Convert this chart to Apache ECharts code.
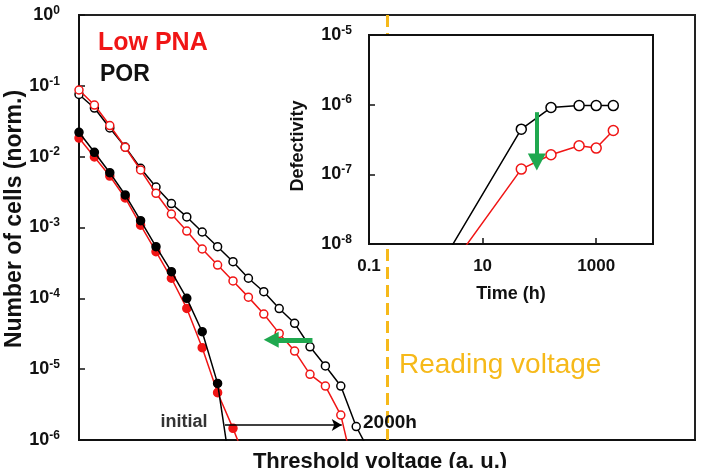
<!DOCTYPE html>
<html>
<head>
<meta charset="utf-8">
<script src="https://cdn.jsdelivr.net/npm/echarts@6/dist/echarts.min.js"></script>
<style>
  html, body { margin: 0; padding: 0; background: #fff; }
  #chart { width: 701px; height: 468px; }
</style>
</head>
<body>
<div id="chart"></div>
<script>
// threshold voltage steps (a. u.), one marker every 0.25
var vSteps = [0, 0.25, 0.5, 0.75, 1, 1.25, 1.5, 1.75, 2, 2.25, 2.5, 2.75, 3, 3.25, 3.5, 3.75, 4, 4.25, 4.5, 4.75];
// last value of each list lies below 1e-6 (line runs off the axis)
var porInitial = [0.0221, 0.01153, 0.00594, 0.00288, 0.00125, 5.36e-4, 2.38e-4, 1.0e-4, 3.38e-5, 6.3e-6, 2.2e-7];
var lowInitial = [0.0183, 0.00989, 0.00533, 0.00261, 0.00108, 4.55e-4, 1.92e-4, 7.2e-5, 2.01e-5, 4.65e-6, 1.46e-6, 4.1e-7];
var por2000h = [0.0755, 0.0486, 0.0254, 0.01368, 0.00685, 0.00373, 0.00218, 0.00141, 8.64e-4, 5.36e-4, 3.29e-4, 1.92e-4, 1.24e-4, 7.18e-5, 4.44e-5, 2.07e-5, 1.11e-5, 5.78e-6, 1.55e-6, 6e-7];
var low2000h = [0.0873, 0.0536, 0.0275, 0.01356, 0.00648, 0.00304, 0.00155, 8.9e-4, 4.97e-4, 2.95e-4, 1.76e-4, 1.04e-4, 6.0e-5, 3.2e-5, 1.8e-5, 8.46e-6, 5.78e-6, 2.25e-6, 2.7e-7];
var readingVoltage = 5;

// inset: defectivity vs time (first point is below 1e-8)
var timeHours = [1, 48, 160, 500, 1000, 2000];
var porDefect = [2.2e-9, 4.45e-7, 9.1e-7, 9.7e-7, 9.7e-7, 9.7e-7];
var lowDefect = [1.5e-9, 1.19e-7, 1.91e-7, 2.57e-7, 2.38e-7, 4.26e-7];

var FONT = 'Liberation Sans, Arial, sans-serif';
var RED = '#f01515';
var GREEN = '#1fa84f';
var GOLD = '#f6b91a';

function pairs(xs, ys) {
    return ys.map(function (y, i) { return [xs[i], y]; });
}

function powLabel(v) {
    var e = Math.round(Math.log10(v));
    return '{b|10}{s|' + e + '}';
}

var powRich = {
    b: { fontSize: 18, fontWeight: 'bold', fontFamily: FONT, color: '#111' },
    s: { fontSize: 12, fontWeight: 'bold', fontFamily: FONT, color: '#111', padding: [0, 0, 9, 0] }
};

function lineSeries(name, data, color, filled, z) {
    return {
        name: name,
        type: 'line',
        xAxisIndex: 0,
        yAxisIndex: 0,
        data: data,
        z: z,
        clip: true,
        symbol: 'circle',
        symbolSize: 8,
        lineStyle: { color: color, width: 1.5 },
        itemStyle: { color: filled ? color : '#fff', borderColor: color, borderWidth: 1.5 },
        animation: false
    };
}

var chart = echarts.init(document.getElementById('chart'));

var porLate = lineSeries('POR 2000h', pairs(vSteps, por2000h), '#000', false, 2);
porLate.markLine = {
    z: 1,
    silent: true,
    label: { show: false },
    data: [
        [
            { coord: [readingVoltage, 1], symbol: 'none', lineStyle: { color: GOLD, width: 3, type: [12, 6] } },
            { coord: [readingVoltage, 1e-6], symbol: 'none' }
        ]
    ]
};

var lowLate = lineSeries('Low PNA 2000h', pairs(vSteps, low2000h), RED, false, 3);
lowLate.markLine = {
    z: 4,
    silent: true,
    label: { show: false },
    data: [
        [
            { coord: [3.79, 2.6e-5], symbol: 'none', lineStyle: { color: GREEN, width: 5, type: 'solid' } },
            { coord: [3.12, 2.6e-5], symbol: 'triangle', symbolSize: [16, 15] }
        ],
        [
            { coord: [2.37, 1.63e-6], symbol: 'none', lineStyle: { color: '#000', width: 1.5, type: 'solid' } },
            { coord: [4.265, 1.63e-6], symbol: 'arrow', symbolSize: [9, 10] }
        ]
    ]
};

var option = {
    animation: false,
    backgroundColor: '#fff',
    grid: [
        { left: 79, top: 15, right: 6, bottom: 28, show: true, borderColor: '#222', borderWidth: 2 },
        { left: 369, top: 35, right: 48, bottom: 224, show: true, borderColor: '#111', borderWidth: 2, backgroundColor: '#fff', z: 5 }
    ],
    xAxis: [
        {
            gridIndex: 0, type: 'value', min: 0, max: 10,
            axisLine: { lineStyle: { color: '#111', width: 2 } },
            axisTick: { show: false }, axisLabel: { show: false }, splitLine: { show: false }
        },
        {
            gridIndex: 1, type: 'log', logBase: 10, min: 0.1, max: 10000, interval: 2, z: 6,
            axisLine: { lineStyle: { color: '#111', width: 2 } },
            axisTick: { inside: true, length: 6, lineStyle: { color: '#111', width: 1.5 } },
            axisLabel: {
                margin: 14, fontSize: 17, fontWeight: 'bold', fontFamily: FONT, color: '#111',
                showMaxLabel: false,
                formatter: function (v) { return v < 1 ? String(+v.toPrecision(1)) : String(Math.round(v)); }
            },
            splitLine: { show: false }
        }
    ],
    yAxis: [
        {
            gridIndex: 0, type: 'log', logBase: 10, min: 1e-6, max: 1, interval: 1,
            axisLine: { lineStyle: { color: '#111', width: 2 } },
            axisTick: { inside: true, length: 6, lineStyle: { color: '#111', width: 1.5 } },
            axisLabel: { margin: 19, formatter: powLabel, rich: powRich },
            splitLine: { show: false }
        },
        {
            gridIndex: 1, type: 'log', logBase: 10, min: 1e-8, max: 1e-5, interval: 1, z: 6,
            axisLine: { lineStyle: { color: '#111', width: 2 } },
            axisTick: { inside: true, length: 6, lineStyle: { color: '#111', width: 1.5 } },
            axisLabel: { margin: 17, formatter: powLabel, rich: powRich },
            splitLine: { show: false }
        }
    ],
    series: [
        lineSeries('Low PNA initial', pairs(vSteps, lowInitial), RED, true, 2),
        lineSeries('POR initial', pairs(vSteps, porInitial), '#000', true, 3),
        porLate,
        lowLate,
        {
            name: 'POR defectivity', type: 'line', xAxisIndex: 1, yAxisIndex: 1, z: 7, clip: true,
            data: pairs(timeHours, porDefect),
            symbol: 'circle', symbolSize: 10,
            lineStyle: { color: '#000', width: 1.5 },
            itemStyle: { color: '#fff', borderColor: '#000', borderWidth: 1.5 }
        },
        {
            name: 'Low PNA defectivity', type: 'line', xAxisIndex: 1, yAxisIndex: 1, z: 7, clip: true,
            data: pairs(timeHours, lowDefect),
            symbol: 'circle', symbolSize: 10,
            lineStyle: { color: RED, width: 1.5 },
            itemStyle: { color: '#fff', borderColor: RED, borderWidth: 1.5 },
            markLine: {
                z: 8,
                silent: true,
                label: { show: false },
                data: [
                    [
                        { coord: [90, 7.8e-7], symbol: 'none', lineStyle: { color: GREEN, width: 4, type: 'solid' } },
                        { coord: [90, 1.5e-7], symbol: 'triangle', symbolSize: [18, 17] }
                    ]
                ]
            }
        }
    ],
    graphic: [
        { type: 'text', x: 98, y: 43, z: 100, style: { text: 'Low PNA', fill: RED, font: 'bold 25px ' + FONT, align: 'left', verticalAlign: 'middle' } },
        { type: 'text', x: 100, y: 75, z: 100, style: { text: 'POR', fill: '#111', font: 'bold 23px ' + FONT, align: 'left', verticalAlign: 'middle' } },
        { type: 'text', x: 184, y: 422, z: 100, style: { text: 'initial', fill: '#333', font: 'bold 18px ' + FONT, align: 'center', verticalAlign: 'middle' } },
        { type: 'text', x: 363, y: 423, z: 100, style: { text: '2000h', fill: '#111', font: 'bold 19px ' + FONT, align: 'left', verticalAlign: 'middle' } },
        { type: 'text', x: 399, y: 365, z: 100, style: { text: 'Reading voltage', fill: GOLD, font: '28px ' + FONT, align: 'left', verticalAlign: 'middle' } },
        { type: 'text', x: 15, y: 219, rotation: Math.PI / 2, z: 100, style: { text: 'Number of cells (norm.)', fill: '#111', font: 'bold 23px ' + FONT, align: 'center', verticalAlign: 'middle' } },
        { type: 'text', x: 380, y: 462, z: 100, style: { text: 'Threshold voltage (a. u.)', fill: '#111', font: 'bold 22px ' + FONT, align: 'center', verticalAlign: 'middle' } },
        { type: 'text', x: 298, y: 146, rotation: Math.PI / 2, z: 100, style: { text: 'Defectivity', fill: '#111', font: 'bold 18px ' + FONT, align: 'center', verticalAlign: 'middle' } },
        { type: 'text', x: 511, y: 294, z: 100, style: { text: 'Time (h)', fill: '#111', font: 'bold 18px ' + FONT, align: 'center', verticalAlign: 'middle' } }
    ]
};

chart.setOption(option);
</script>
</body>
</html>
